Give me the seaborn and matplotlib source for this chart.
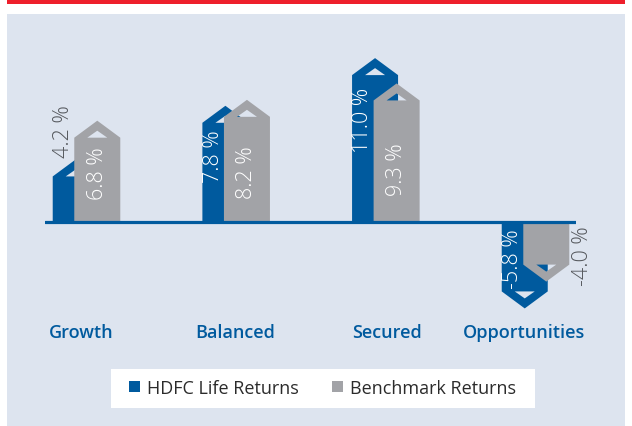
import numpy as np
import pandas as pd
import seaborn as sns
import matplotlib
matplotlib.use("Agg")
import matplotlib.pyplot as plt
from matplotlib.path import Path
from matplotlib.patches import PathPatch, Rectangle, Patch

# ---------------- data ----------------
categories = ["Growth", "Balanced", "Secured", "Opportunities"]
series = ["HDFC Life Returns", "Benchmark Returns"]
hdfc_returns = [4.2, 7.8, 11.0, -5.8]
benchmark_returns = [6.8, 8.2, 9.3, -4.0]

# ---------------- style / layout ----------------
BLUE = "#005a9e"
GRAY = "#a2a3a7"
RED = "#ee1f2b"
PANEL = "#dde4ef"
LABEL_GRAY = "#55585d"

W, H = 632, 427
BASE_PX = 223.0          # baseline (y=0) pixel row
PX_PER_Y = 14.9          # pixels per 1 %
X0_PX = 86.5             # first group centre
PX_PER_X = 149.67        # pixels per category

sns.set_theme(style="white")
plt.rcParams["font.family"] = ["Open Sans", "DejaVu Sans"]

fig = plt.figure(figsize=(W / 100, H / 100), dpi=100)
fig.patch.set_facecolor("white")

# top red band and light panel
fig.patches.append(Rectangle((7 / W, 1 - 5 / H), 618 / W, 5 / H, transform=fig.transFigure,
                             facecolor=RED, edgecolor="none", zorder=-3))
fig.patches.append(Rectangle((7 / W, 0), 618 / W, (H - 14.5) / H, transform=fig.transFigure,
                             facecolor=PANEL, edgecolor="none", zorder=-3))

ymin, ymax = -6.5, 12.5
top_px = BASE_PX - ymax * PX_PER_Y
bot_px = BASE_PX - ymin * PX_PER_Y
left_px, right_px = 45, 576
ax = fig.add_axes([left_px / W, 1 - bot_px / H, (right_px - left_px) / W, (bot_px - top_px) / H])
ax.set_facecolor("none")

df = pd.DataFrame({
    "category": categories * 2,
    "series": [series[0]] * len(categories) + [series[1]] * len(categories),
    "value": hdfc_returns + benchmark_returns,
})

sns.barplot(data=df, x="category", y="value", hue="series", palette=[BLUE, GRAY],
            dodge=True, width=0.288, ax=ax, legend=False, errorbar=None)

hw = 23 / PX_PER_X        # half bar width
ah = 17 / PX_PER_Y        # arrow head height
tw = 10 / PX_PER_X        # hole triangle half width
th = 7 / PX_PER_Y         # hole triangle height

def arrow_path(c, v):
    sgn = 1 if v >= 0 else -1
    s = v - sgn * ah
    outer = [(c - hw, 0), (c + hw, 0), (c + hw, s), (c, v), (c - hw, s), (c - hw, 0)]
    inner = [(c - tw, s), (c, s + sgn * th), (c + tw, s), (c - tw, s)]
    verts = outer + inner
    codes = ([Path.MOVETO] + [Path.LINETO] * 4 + [Path.CLOSEPOLY] +
             [Path.MOVETO] + [Path.LINETO] * 2 + [Path.CLOSEPOLY])
    return Path(verts, codes)

centers = []
for k, (cont, col) in enumerate(zip(ax.containers, [BLUE, GRAY])):
    cs = []
    for bar in cont:
        c = bar.get_x() + bar.get_width() / 2
        y0, h = bar.get_y(), bar.get_height()
        v = y0 + h if abs(y0) < 1e-12 else y0
        bar.set_visible(False)
        ax.add_patch(PathPatch(arrow_path(c, v), facecolor=col, edgecolor="none", zorder=2 + k))
        cs.append(c)
    centers.append(cs)

ax.axhline(0, color=BLUE, lw=2.3, zorder=6)

# value labels (layout: label centre y and whether inside)
hdfc_label_y = [6.1, 4.45, 6.85, -2.42]
bench_label_y = [3.3, 3.4, 3.6, -2.25]
hdfc_inside = [False, True, True, True]
bench_inside = [True, True, True, False]
lab_fs = 15.5

for i, v in enumerate(hdfc_returns):
    cb, cg = centers[0][i], centers[1][i]
    x = (cb - hw + cg - hw) / 2
    ax.text(x, hdfc_label_y[i], f"{v:.1f} %", rotation=90, ha="center", va="center",
            fontsize=lab_fs, fontweight="light",
            color="white" if hdfc_inside[i] else LABEL_GRAY, zorder=7, clip_on=False)
for i, v in enumerate(benchmark_returns):
    cg = centers[1][i]
    x = cg if bench_inside[i] else cg + hw + 13 / PX_PER_X
    ax.text(x, bench_label_y[i], f"{v:.1f} %", rotation=90, ha="center", va="center",
            fontsize=lab_fs, fontweight="light",
            color="white" if bench_inside[i] else LABEL_GRAY, zorder=7, clip_on=False)

ax.set_xlim((left_px - X0_PX) / PX_PER_X, (right_px - X0_PX) / PX_PER_X)
ax.set_ylim(ymin, ymax)
ax.set_yticks([])
ax.set_xlabel("")
ax.set_ylabel("")
ax.set_xticks([])
for sp in ax.spines.values():
    sp.set_visible(False)

# category labels (layout: small horizontal nudges in px)
cat_dx_px = [-5.5, -1, 1, -11.5]
cat_y_px = 333.5
for i, name in enumerate(categories):
    xc = (centers[0][i] + centers[1][i]) / 2 + cat_dx_px[i] / PX_PER_X
    ax.text(xc, (BASE_PX - cat_y_px) / PX_PER_Y, name, ha="center", va="center",
            fontsize=13, fontweight="semibold", color=BLUE, clip_on=False)

# legend box
fig.patches.append(Rectangle((111 / W, 1 - 409 / H), 424 / W, 39 / H, transform=fig.transFigure,
                             facecolor="white", edgecolor="none", zorder=1))
handles = [Patch(facecolor=BLUE, edgecolor="none"), Patch(facecolor=GRAY, edgecolor="none")]
fig.legend(handles, series, loc="center", bbox_to_anchor=(322.5 / W, 1 - 389 / H), ncol=2,
           frameon=False, fontsize=13, handlelength=0.6, handleheight=0.6,
           handletextpad=0.4, columnspacing=1.85, labelcolor="#2b2b2b")

fig.savefig("out.png", dpi=100, facecolor="white")
